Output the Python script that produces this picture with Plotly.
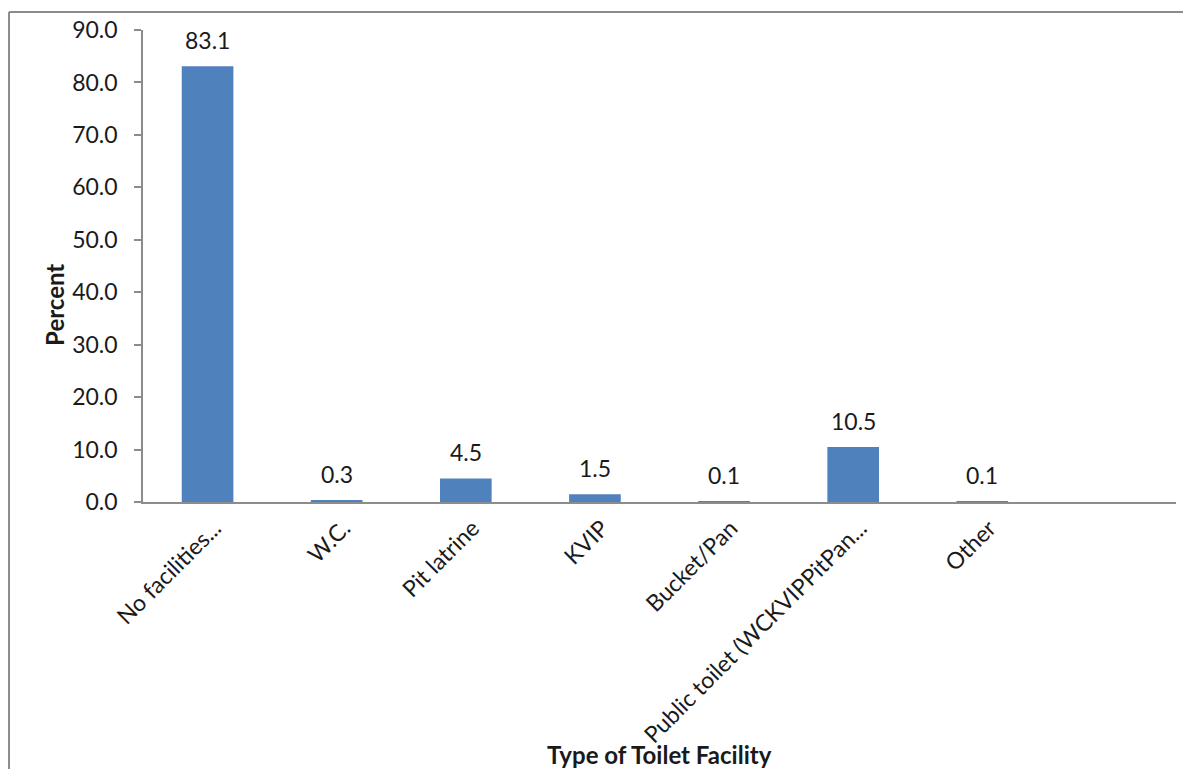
import plotly.graph_objects as go

# Toilet facility categories and their percentages
categories = ["No facilities...", "W.C.", "Pit latrine", "KVIP", "Bucket/Pan",
              "Public toilet (WCKVIPPitPan...", "Other"]
percent = [83.1, 0.3, 4.5, 1.5, 0.1, 10.5, 0.1]
y_ticks = [0, 10, 20, 30, 40, 50, 60, 70, 80, 90]

FONT = "Lato, Carlito, 'Liberation Sans', sans-serif"
TEXT = "#1a1a1a"
AXIS = "#8c8c8c"

fig = go.Figure()
fig.add_trace(go.Bar(
    x=list(range(len(categories))),
    y=percent,
    width=0.4,
    marker=dict(color="#4F81BD", line=dict(width=0)),
    showlegend=False,
    hoverinfo="x+y",
))

# Value labels above each bar
annotations = []
for i, v in enumerate(percent):
    annotations.append(dict(
        x=i, y=v, xref="x", yref="y", text=f"{v:.1f}",
        showarrow=False, yanchor="middle", yshift=26,
        font=dict(family=FONT, size=23, color=TEXT),
    ))

# Axis titles
annotations.append(dict(
    x=0.5, y=-0.535, xref="paper", yref="paper", text="<b>Type of Toilet Facility</b>",
    showarrow=False, xanchor="center", yanchor="middle",
    font=dict(family=FONT, size=24, color=TEXT),
))
annotations.append(dict(
    x=-0.085, y=0.418, xref="paper", yref="paper", text="<b>Percent</b>",
    showarrow=False, xanchor="center", yanchor="middle", textangle=-90,
    font=dict(family=FONT, size=24, color=TEXT),
))

# Chart-area frame (left and top edges)
shapes = [
    dict(type="line", xref="paper", yref="paper", x0=-0.1297, x1=-0.1297, y0=1.038, y1=-0.6,
         line=dict(color=AXIS, width=2)),
    dict(type="line", xref="paper", yref="paper", x0=-0.1297, x1=1.02, y0=1.038, y1=1.038,
         line=dict(color=AXIS, width=2)),
]

fig.update_layout(
    width=1183, height=769,
    margin=dict(l=143, r=7, t=30, b=267),
    paper_bgcolor="white", plot_bgcolor="white",
    font=dict(family=FONT, size=23, color=TEXT),
    annotations=annotations,
    shapes=shapes,
    bargap=0.6,
)
fig.update_xaxes(
    range=[-0.5, 7.5],
    tickmode="array", tickvals=list(range(len(categories))), ticktext=categories,
    tickangle=-45, ticks="", showgrid=False, zeroline=False,
    ticklabelshift=7, ticklabelstandoff=2,
    showline=True, linecolor=AXIS, linewidth=1.5,
    tickfont=dict(family=FONT, size=23, color=TEXT),
)
fig.update_yaxes(
    range=[0, 90], tickmode="array", tickvals=y_ticks,
    tickformat=".1f", ticks="outside", ticklen=7, tickcolor=AXIS, tickwidth=1.5,
    ticklabelstandoff=12,
    showgrid=False, zeroline=False,
    showline=True, linecolor=AXIS, linewidth=1.5,
    tickfont=dict(family=FONT, size=23, color=TEXT),
)

fig.write_html("out.html")
